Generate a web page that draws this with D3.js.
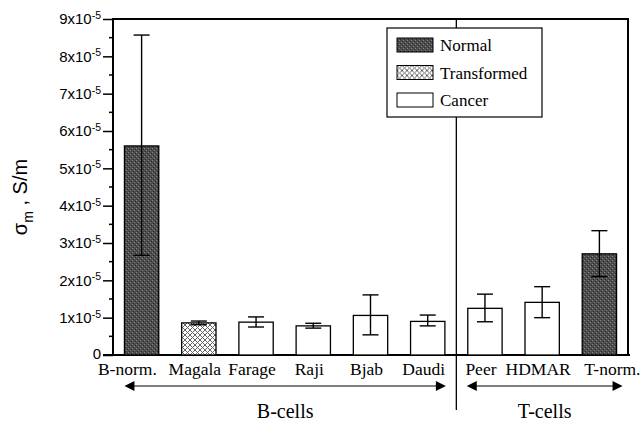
<!DOCTYPE html>
<html>
<head>
<meta charset="utf-8">
<script src="https://cdn.jsdelivr.net/npm/d3@7"></script>
<style>
  body { margin: 0; background: #fff; }
  svg { display: block; }
  .tick-label { font-family: "Liberation Sans", Arial, sans-serif; font-size: 15px; }
  .serif { font-family: "Liberation Serif", "Times New Roman", serif; }
</style>
</head>
<body>
<script>
var width = 644, height = 421;
var margin = {left: 113, right: 16, top: 19, bottom: 66};

// data, in units of 1e-5 S/m
var cells = ["B-norm.", "Magala", "Farage", "Raji", "Bjab", "Daudi", "Peer", "HDMAR", "T-norm."];
var kinds = ["Normal", "Transformed", "Cancer", "Cancer", "Cancer", "Cancer", "Cancer", "Cancer", "Normal"];
var means = [5.6, 0.86, 0.88, 0.78, 1.06, 0.90, 1.25, 1.41, 2.71];
var errHigh = [8.57, 0.91, 1.02, 0.85, 1.61, 1.07, 1.63, 1.83, 3.33];
var errLow = [2.67, 0.81, 0.75, 0.72, 0.54, 0.78, 0.89, 1.00, 2.10];
var yTicks = [0, 1, 2, 3, 4, 5, 6, 7, 8, 9];
var legendItems = ["Normal", "Transformed", "Cancer"];
var groups = [
  {name: "B-cells", from: "B-norm.", to: "Daudi"},
  {name: "T-cells", from: "Peer", to: "T-norm."}
];

var svg = d3.select("body").append("svg")
    .attr("width", width)
    .attr("height", height);

var defs = svg.append("defs");

// stippled dark fill for "Normal"
var stip = defs.append("pattern")
    .attr("id", "stipple")
    .attr("patternUnits", "userSpaceOnUse")
    .attr("width", 4).attr("height", 4);
stip.append("rect").attr("width", 4).attr("height", 4).attr("fill", "#4d4d4d");
stip.append("rect").attr("x", 0).attr("y", 0).attr("width", 1).attr("height", 1).attr("fill", "#858585");
stip.append("rect").attr("x", 2).attr("y", 2).attr("width", 1).attr("height", 1).attr("fill", "#858585");
stip.append("rect").attr("x", 1).attr("y", 3).attr("width", 1).attr("height", 1).attr("fill", "#2a2a2a");
stip.append("rect").attr("x", 3).attr("y", 1).attr("width", 1).attr("height", 1).attr("fill", "#2a2a2a");

// crosshatch for "Transformed"
var hatch = defs.append("pattern")
    .attr("id", "hatch")
    .attr("patternUnits", "userSpaceOnUse")
    .attr("width", 5).attr("height", 5);
hatch.append("rect").attr("width", 5).attr("height", 5).attr("fill", "#fff");
hatch.append("path").attr("d", "M0,0L5,5M5,0L0,5")
    .attr("stroke", "#666").attr("stroke-width", 1);

var fills = {Normal: "url(#stipple)", Transformed: "url(#hatch)", Cancer: "#fff"};

var x = d3.scaleBand()
    .domain(cells)
    .range([margin.left, width - margin.right])
    .paddingInner(0.4)
    .paddingOuter(0.2);

var y = d3.scaleLinear()
    .domain([0, 9])
    .range([height - margin.bottom, margin.top]);

var x0 = margin.left, x1 = width - margin.right;
var y0 = y(0), yTop = y(9);

// minor ticks
var minor = d3.range(0.5, 9, 1);
svg.append("g").selectAll("line")
    .data(minor)
  .enter().append("line")
    .attr("x1", x0 - 4).attr("x2", x0)
    .attr("y1", function(d) { return y(d); })
    .attr("y2", function(d) { return y(d); })
    .attr("stroke", "#000").attr("stroke-width", 1.5);

// y axis
var yAxis = d3.axisLeft(y)
    .tickValues(yTicks)
    .tickSize(10)
    .tickFormat("");
var gy = svg.append("g")
    .attr("transform", "translate(" + x0 + ",0)")
    .call(yAxis);
gy.select(".domain").remove();
gy.selectAll(".tick line").attr("stroke-width", 1.5);

var labels = svg.append("g").attr("class", "tick-label")
    .selectAll("text")
    .data(yTicks)
  .enter().append("text")
    .attr("x", x0 - 12)
    .attr("y", function(d) { return y(d); })
    .attr("dy", function(d) { return d === 0 ? "0.25em" : "0.36em"; })
    .attr("text-anchor", "end");
labels.each(function(d) {
  var t = d3.select(this);
  if (d === 0) { t.text("0"); return; }
  t.append("tspan").text(d + "x10");
  t.append("tspan").attr("font-size", "10.5px").attr("dy", "-0.5em").text("-5");
});

// frame
svg.append("path")
    .attr("d", "M" + x0 + "," + y0 + "V" + yTop + "H" + x1 + "V" + y0)
    .attr("fill", "none").attr("stroke", "#000").attr("stroke-width", 2);
svg.append("line")
    .attr("x1", x0 - 10).attr("x2", x1 + 2)
    .attr("y1", y0).attr("y2", y0)
    .attr("stroke", "#000").attr("stroke-width", 2);

// divider between B and T cells
var divX = (x("Daudi") + x.bandwidth() + x("Peer")) / 2;
svg.append("line")
    .attr("x1", divX).attr("x2", divX)
    .attr("y1", yTop).attr("y2", 410)
    .attr("stroke", "#000").attr("stroke-width", 1.3);

// bars
svg.append("g").selectAll("rect")
    .data(cells)
  .enter().append("rect")
    .attr("x", function(d) { return x(d); })
    .attr("width", x.bandwidth())
    .attr("y", function(d, i) { return y(means[i]); })
    .attr("height", function(d, i) { return y0 - y(means[i]); })
    .attr("fill", function(d, i) { return fills[kinds[i]]; })
    .attr("stroke", "#000").attr("stroke-width", 1.3);

// error bars
var eb = svg.append("g").selectAll("g")
    .data(cells)
  .enter().append("g")
    .attr("stroke", "#000").attr("stroke-width", 1.4);
eb.append("line")
    .attr("x1", function(d) { return x(d) + x.bandwidth() / 2; })
    .attr("x2", function(d) { return x(d) + x.bandwidth() / 2; })
    .attr("y1", function(d, i) { return y(errLow[i]); })
    .attr("y2", function(d, i) { return y(errHigh[i]); });
[errLow, errHigh].forEach(function(arr) {
  eb.append("line")
      .attr("x1", function(d) { return x(d) + x.bandwidth() / 2 - 8; })
      .attr("x2", function(d) { return x(d) + x.bandwidth() / 2 + 8; })
      .attr("y1", function(d, i) { return y(arr[i]); })
      .attr("y2", function(d, i) { return y(arr[i]); });
});

// category labels: end ones pulled outward as in the original layout
var last = cells.length - 1;
svg.append("g").attr("class", "serif")
    .selectAll("text")
    .data(cells)
  .enter().append("text")
    .attr("x", function(d, i) {
      if (i === 0) return x(d) + x.bandwidth() - 2;
      if (i === last) return x(d) + 2;
      return x(d) + x.bandwidth() / 2 - 4;
    })
    .attr("y", 375)
    .attr("text-anchor", function(d, i) {
      return i === 0 ? "end" : i === last ? "start" : "middle";
    })
    .attr("font-size", "17.5px")
    .text(function(d) { return d; });

// group arrows
var ay = 386;
groups.forEach(function(g) {
  var a = g.name === "B-cells" ? x(g.from) : x(g.from) - 1;
  var b = g.name === "B-cells" ? x(g.to) + x.bandwidth() + 1 : x(g.to) + x.bandwidth() + 6;
  svg.append("line")
      .attr("x1", a + 8).attr("x2", b - 8)
      .attr("y1", ay).attr("y2", ay)
      .attr("stroke", "#000").attr("stroke-width", 1.2);
  svg.append("path")
      .attr("d", "M" + a + "," + ay + "l10,-5v10z")
      .attr("fill", "#000");
  svg.append("path")
      .attr("d", "M" + b + "," + ay + "l-10,-5v10z")
      .attr("fill", "#000");
  svg.append("text").attr("class", "serif")
      .attr("x", (a + b) / 2)
      .attr("y", 418)
      .attr("text-anchor", "middle")
      .attr("font-size", "20px")
      .text(g.name);
});

// y axis title
var yt = svg.append("text")
    .attr("transform", "translate(27,197) rotate(-90)")
    .attr("text-anchor", "middle")
    .attr("font-family", "Liberation Sans, Arial, sans-serif")
    .attr("font-size", "20px");
yt.append("tspan").text("\u03c3");
yt.append("tspan").attr("font-size", "14px").attr("dy", "0.45em").text("m");
yt.append("tspan").attr("dy", "-0.32em").text(" , S/m");

// legend
var lg = svg.append("g").attr("transform", "translate(387,28)");
lg.append("rect")
    .attr("width", 155).attr("height", 89)
    .attr("fill", "#fff").attr("stroke", "#000").attr("stroke-width", 1.2);
var li = lg.selectAll("g.item")
    .data(legendItems)
  .enter().append("g")
    .attr("class", "item")
    .attr("transform", function(d, i) { return "translate(10," + (10 + i * 27.5) + ")"; });
li.append("rect")
    .attr("width", 36).attr("height", 14)
    .attr("fill", function(d) { return fills[d]; })
    .attr("stroke", "#000").attr("stroke-width", 1);
li.append("text").attr("class", "serif")
    .attr("x", 43).attr("y", 13)
    .attr("font-size", "17px")
    .text(function(d) { return d; });
</script>
</body>
</html>
